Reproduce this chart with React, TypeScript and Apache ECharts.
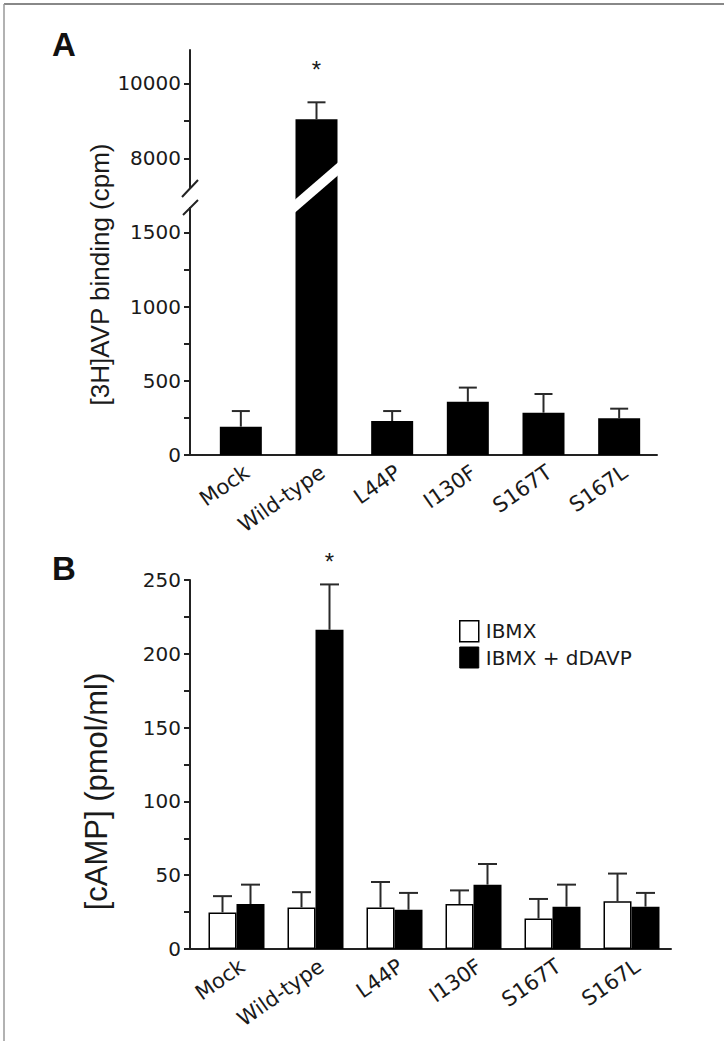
import React, { useEffect, useRef } from "react";
import * as echarts from "echarts";

// ---------- data ----------
const categories = ["Mock", "Wild-type", "L44P", "I130F", "S167T", "S167L"];

// Panel A: [3H]AVP binding (cpm)
const bindingMean = [191, 9040, 229, 359, 285, 247];
const bindingErr = [105, 453, 67, 95, 126, 65];
const bindingSig = [0, 1, 0, 0, 0, 0];
const lowerTicks = [0, 250, 500, 750, 1000, 1250, 1500];
const lowerLabels = [0, 500, 1000, 1500];
const upperTicks = [8000, 9000, 10000];
const upperLabels = [8000, 10000];

// Panel B: [cAMP] (pmol/ml)
const seriesNames = ["IBMX", "IBMX + dDAVP"];
const ibmxMean = [24.8, 28.2, 28.2, 30.5, 20.6, 32.3];
const ibmxErr = [11, 10.3, 17.2, 9.2, 13.3, 18.8];
const ibmxSig = [0, 0, 0, 0, 0, 0];
const ddavpMean = [30.5, 216.3, 26.6, 43.6, 28.7, 28.7];
const ddavpErr = [13.1, 30.7, 11.4, 14, 14.9, 9.3];
const ddavpSig = [0, 1, 0, 0, 0, 0];
const campTicks = [0, 25, 50, 75, 100, 125, 150, 175, 200, 225, 250];
const campLabels = [0, 50, 100, 150, 200, 250];

// ---------- layout / style ----------
const AXIS_X = 190;
const A_LEFT = 203;
const A_WIDTH = 454;
const A_UP_TOP = 50;
const A_UP_H = 148;
const A_LO_TOP = 198;
const A_LO_H = 257;
const UP_MIN = 6941;
const UP_MAX = 10888;
const LO_MAX = 1731;
const B_LEFT = 197;
const B_WIDTH = 474;
const B_TOP = 580;
const B_H = 369;
const LABEL_SHIFT = 6;

const INK = "#1a1a1a";
const LINE = "#222";
const TICK_FONT = "DejaVu Sans";
const TITLE_FONT = "Liberation Sans";

const yAxisBase = (gridIndex: number, min: number, max: number, ticks: number[], labels: number[], offset: number) => ({
  gridIndex,
  type: "value",
  min,
  max,
  offset,
  axisLine: { show: true, lineStyle: { color: LINE, width: 2 } },
  axisTick: { show: true, length: 6, lineStyle: { color: LINE, width: 2 }, customValues: ticks },
  axisLabel: {
    customValues: labels,
    formatter: (v: number) => String(v),
    margin: 9,
    fontSize: 20,
    fontFamily: TICK_FONT,
    color: INK,
  },
  splitLine: { show: false },
});

function errorBars(
  xAxisIndex: number,
  yAxisIndex: number,
  means: number[],
  errs: number[],
  sig: number[],
  offset: number,
  capW: number,
  starGap: number,
  lo: number,
  hi: number
) {
  return {
    type: "custom",
    xAxisIndex,
    yAxisIndex,
    z: 5,
    data: means.map((m, i) => [i, m, errs[i], sig[i]]),
    renderItem: (_params: any, api: any) => {
      const i = api.value(0);
      const m = api.value(1);
      const e = api.value(2);
      if (m < lo || m > hi) return null;
      const b = api.coord([i, m]);
      const t = api.coord([i, m + e]);
      const x = b[0] + offset;
      const st = { stroke: "#2a2a2a", lineWidth: 2 };
      const children: any[] = [
        { type: "line", shape: { x1: x, y1: b[1], x2: x, y2: t[1] }, style: st },
        { type: "line", shape: { x1: x - capW / 2, y1: t[1], x2: x + capW / 2, y2: t[1] }, style: st },
      ];
      if (api.value(3)) {
        children.push({
          type: "text",
          style: {
            text: "*",
            x,
            y: t[1] - starGap,
            align: "center",
            verticalAlign: "middle",
            fontSize: 24,
            fontFamily: TITLE_FONT,
            fill: INK,
          },
        });
      }
      return { type: "group", children };
    },
  };
}

export default function App() {
  const ref = useRef<HTMLDivElement>(null);

  useEffect(() => {
    const chart = echarts.init(ref.current!, null, { renderer: "svg" });

    const hiddenX = (gridIndex: number) => ({ gridIndex, type: "category", data: categories, show: false });
    const labelX = (gridIndex: number) => ({
      gridIndex,
      type: "category",
      data: categories,
      axisLine: { show: false },
      axisTick: { show: false },
      axisLabel: { rotate: 35, margin: 15, fontSize: 21, fontFamily: TICK_FONT, color: INK, interval: 0 },
    });
    const lineX = (gridIndex: number) => ({
      gridIndex,
      type: "category",
      data: categories,
      axisLine: { show: true, lineStyle: { color: LINE, width: 2 } },
      axisTick: { show: false },
      axisLabel: { show: false },
    });

    const option: any = {
      animation: false,
      backgroundColor: "#fff",
      grid: [
        { left: A_LEFT, width: A_WIDTH, top: A_UP_TOP, height: A_UP_H },
        { left: A_LEFT, width: A_WIDTH, top: A_LO_TOP, height: A_LO_H },
        { left: A_LEFT + LABEL_SHIFT, width: A_WIDTH, top: A_LO_TOP, height: A_LO_H },
        { left: B_LEFT, width: B_WIDTH, top: B_TOP, height: B_H },
        { left: B_LEFT + LABEL_SHIFT, width: B_WIDTH, top: B_TOP, height: B_H },
      ],
      xAxis: [hiddenX(0), lineX(1), labelX(2), lineX(3), labelX(4)],
      yAxis: [
        yAxisBase(0, UP_MIN, UP_MAX, upperTicks, upperLabels, A_LEFT - AXIS_X),
        {
          ...yAxisBase(1, 0, LO_MAX, lowerTicks, lowerLabels, A_LEFT - AXIS_X),
          name: "[3H]AVP binding (cpm)",
          nameLocation: "middle",
          nameGap: 77,
          nameTextStyle: { fontSize: 26, fontFamily: TITLE_FONT, color: INK, padding: [0, 0, 0, 104] },
        },
        { gridIndex: 2, type: "value", show: false },
        {
          ...yAxisBase(3, 0, 250, campTicks, campLabels, B_LEFT - AXIS_X),
          name: "[cAMP] (pmol/ml)",
          nameLocation: "middle",
          nameGap: 78,
          nameTextStyle: { fontSize: 31, fontFamily: TITLE_FONT, color: INK, padding: [0, 54, 0, 0] },
        },
        { gridIndex: 4, type: "value", show: false },
      ],
      legend: {
        data: [
          { name: seriesNames[0], itemStyle: { color: "#fff", borderColor: "#000", borderWidth: 1.5 } },
          { name: seriesNames[1], itemStyle: { color: "#000", borderColor: "#000", borderWidth: 1 } },
        ],
        orient: "vertical",
        left: 454,
        top: 615,
        icon: "rect",
        itemWidth: 19,
        itemHeight: 21,
        itemGap: 4,
        textStyle: { fontSize: 20, fontFamily: TICK_FONT, color: INK, padding: [0, 0, 0, 2] },
      },
      series: [
        { type: "bar", xAxisIndex: 0, yAxisIndex: 0, data: bindingMean, barWidth: 42, itemStyle: { color: "#000" } },
        { type: "bar", xAxisIndex: 1, yAxisIndex: 1, data: bindingMean, barWidth: 42, itemStyle: { color: "#000" } },
        errorBars(0, 0, bindingMean, bindingErr, bindingSig, 0, 18, 33, UP_MIN, UP_MAX),
        errorBars(1, 1, bindingMean, bindingErr, bindingSig, 0, 18, 33, 0, LO_MAX),
        {
          type: "bar",
          name: seriesNames[0],
          xAxisIndex: 3,
          yAxisIndex: 3,
          data: ibmxMean,
          barWidth: 28,
          barGap: "0%",
          itemStyle: { color: "#fff", borderColor: "#000", borderWidth: 1.5 },
        },
        {
          type: "bar",
          name: seriesNames[1],
          xAxisIndex: 3,
          yAxisIndex: 3,
          data: ddavpMean,
          barWidth: 28,
          barGap: "0%",
          itemStyle: { color: "#000" },
        },
        errorBars(3, 3, ibmxMean, ibmxErr, ibmxSig, -14, 19, 23, 0, 250),
        errorBars(3, 3, ddavpMean, ddavpErr, ddavpSig, 14, 19, 23, 0, 250),
      ],
    };
    chart.setOption(option);

    // decorations derived from the axes
    const yb = chart.convertToPixel({ gridIndex: 0 }, [0, UP_MIN])[1];
    const wtX = chart.convertToPixel({ gridIndex: 1 }, [1, 0])[0];
    const aBase = chart.convertToPixel({ gridIndex: 1 }, [0, 0])[1];
    const bBase = chart.convertToPixel({ gridIndex: 3 }, [0, 0])[1];
    const half = 22;
    chart.setOption({
      graphic: [
        { type: "line", shape: { x1: 4, y1: 4, x2: 724, y2: 4 }, style: { stroke: "#888", lineWidth: 2 } },
        { type: "line", shape: { x1: 4, y1: 4, x2: 4, y2: 1041 }, style: { stroke: "#999", lineWidth: 1.5 } },
        { type: "text", x: 52, y: 28, style: { text: "A", fontSize: 33, fontWeight: "bold", fontFamily: TITLE_FONT, fill: "#111" } },
        { type: "text", x: 52, y: 552, style: { text: "B", fontSize: 33, fontWeight: "bold", fontFamily: TITLE_FONT, fill: "#111" } },
        { type: "line", shape: { x1: AXIS_X - 1, y1: aBase, x2: A_LEFT, y2: aBase }, style: { stroke: LINE, lineWidth: 2 } },
        { type: "line", shape: { x1: AXIS_X - 1, y1: bBase, x2: B_LEFT, y2: bBase }, style: { stroke: LINE, lineWidth: 2 } },
        { type: "rect", z: 100, shape: { x: AXIS_X - 4, y: yb - 9, width: 8, height: 18 }, style: { fill: "#fff" } },
        { type: "line", z: 101, shape: { x1: AXIS_X - 8, y1: yb - 1, x2: AXIS_X + 8, y2: yb - 18 }, style: { stroke: LINE, lineWidth: 2 } },
        { type: "line", z: 101, shape: { x1: AXIS_X - 7, y1: yb + 17, x2: AXIS_X + 8, y2: yb + 2 }, style: { stroke: LINE, lineWidth: 2 } },
        {
          type: "polygon",
          z: 100,
          shape: {
            points: [
              [wtX - half, yb + 2],
              [wtX + half, yb - 36],
              [wtX + half, yb - 23],
              [wtX - half, yb + 15],
            ],
          },
          style: { fill: "#fff" },
        },
      ],
    });

    return () => chart.dispose();
  }, []);

  return (
    <div
      ref={ref}
      style={{ position: "absolute", left: 0, top: 0, width: 724, height: 1041, background: "#fff" }}
    />
  );
}
